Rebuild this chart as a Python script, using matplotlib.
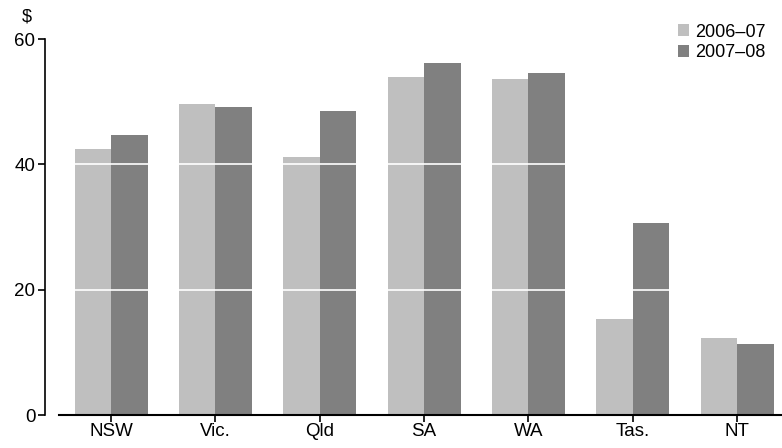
import numpy as np
import matplotlib
matplotlib.use("Agg")
import matplotlib.pyplot as plt

plt.rcParams['font.family'] = ['Liberation Sans', 'DejaVu Sans']

states = ["NSW", "Vic.", "Qld", "SA", "WA", "Tas.", "NT"]
y2006 = [42.4, 49.6, 41.1, 53.9, 53.6, 15.3, 12.3]
y2007 = [44.7, 49.1, 48.5, 56.1, 54.5, 30.6, 11.3]
series_labels = ["2006\u201307", "2007\u201308"]
yticks = [0, 20, 40, 60]

light = "#bfbfbf"
dark = "#808080"


def main():
    fig = plt.figure(figsize=(7.82, 4.48), dpi=100)
    ax = fig.add_axes([59 / 782, 33 / 448, 723 / 782, 376 / 448])

    x = np.arange(len(states))
    w = 0.35
    ax.bar(x - w / 2, y2006, w, color=light, label=series_labels[0], zorder=2)
    ax.bar(x + w / 2, y2007, w, color=dark, label=series_labels[1], zorder=2)

    # white gridlines show only across the bars
    for v in yticks[1:-1]:
        ax.axhline(v, color="white", lw=1.2, zorder=3)

    ax.set_xlim(-0.5, 6.43)
    ax.set_ylim(0, 60)
    ax.set_yticks(yticks)
    ax.set_xticks(x)
    ax.set_xticklabels(states)

    for s in ["top", "right"]:
        ax.spines[s].set_visible(False)
    ax.spines["left"].set_position(("outward", 10))
    ax.spines["left"].set_bounds(0, 60)
    ax.spines["left"].set_linewidth(1.2)
    ax.spines["bottom"].set_linewidth(1.5)
    ax.tick_params(axis="both", labelsize=13.5, length=5, width=1.2, colors="black")
    ax.tick_params(axis="y", pad=2)
    ax.tick_params(axis="x", pad=1)

    fig.text(27 / 782, 1 - 17 / 448, "$", fontsize=13, ha="center", va="center")

    ax.legend(loc="upper right", bbox_to_anchor=(0.988, 1.06), frameon=False,
              fontsize=13, handlelength=0.65, handleheight=0.65,
              handletextpad=0.35, labelspacing=0.2, borderaxespad=0)

    fig.savefig("out.png", dpi=100)


if __name__ == '__main__':
    main()
